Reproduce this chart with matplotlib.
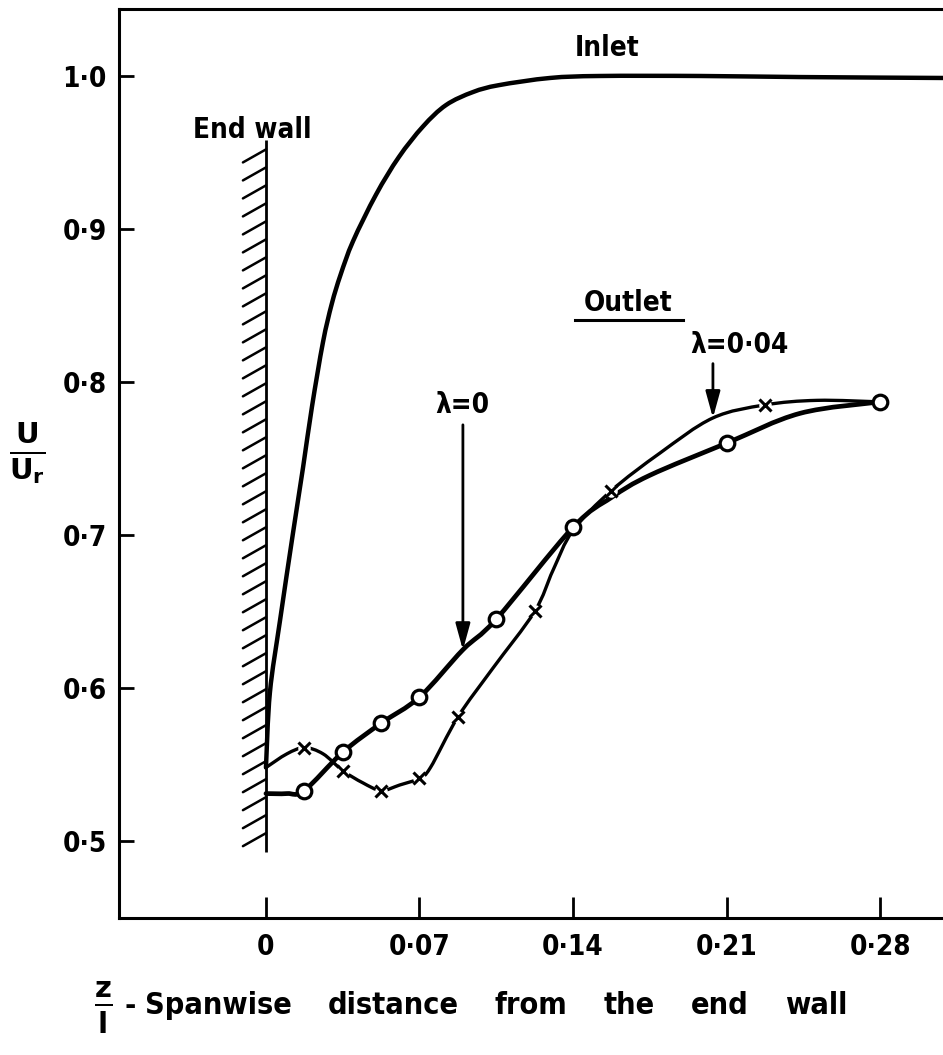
import numpy as np
import matplotlib
matplotlib.use("Agg")
import matplotlib.pyplot as plt
from matplotlib.path import Path
from matplotlib.patches import PathPatch

# ---- data -------------------------------------------------------------
# Inlet velocity profile (z/l, U/Ur)
inlet_z = [0.0, 0.0018, 0.0064, 0.0123, 0.0169, 0.0210, 0.0260, 0.0300, 0.0340,
           0.0397, 0.0502, 0.0606, 0.0716, 0.0821, 0.0944, 0.1062, 0.1295,
           0.1523, 0.198, 0.2435, 0.3087]
inlet_u = [0.548, 0.597, 0.644, 0.701, 0.744, 0.784, 0.826, 0.851, 0.870,
           0.892, 0.9225, 0.947, 0.967, 0.981, 0.9895, 0.994, 0.9987,
           1.0, 1.0, 0.9993, 0.9987]

# Outlet, lambda = 0 : measured points and faired curve
out0_z = [0.0175, 0.035, 0.0525, 0.07, 0.105, 0.14, 0.21, 0.28]
out0_u = [0.533, 0.558, 0.577, 0.594, 0.645, 0.705, 0.760, 0.787]
out0_curve_z = [0.0, 0.0096, 0.0175, 0.035, 0.0525, 0.07, 0.0898, 0.105, 0.14,
                0.1575, 0.175, 0.21, 0.2435, 0.28]
out0_curve_u = [0.531, 0.531, 0.533, 0.558, 0.577, 0.594, 0.625, 0.645, 0.705,
                0.7245, 0.739, 0.760, 0.7795, 0.787]

# Outlet, lambda = 0.04 : measured points and faired curve
out4_z = [0.0175, 0.035, 0.0525, 0.07, 0.0875, 0.1225, 0.1575, 0.2275]
out4_u = [0.561, 0.546, 0.533, 0.541, 0.581, 0.650, 0.729, 0.785]
out4_curve_z = [0.0, 0.0096, 0.0175, 0.026, 0.035, 0.0442, 0.0525, 0.061, 0.07,
                0.075, 0.0875, 0.1035, 0.1225, 0.1309, 0.140, 0.1575, 0.1797,
                0.2038, 0.2275, 0.2513, 0.28]
out4_curve_u = [0.548, 0.557, 0.561, 0.557, 0.546, 0.538, 0.533, 0.5366, 0.541,
                0.548, 0.581, 0.613, 0.650, 0.677, 0.703, 0.729, 0.7536,
                0.7765, 0.785, 0.788, 0.787]

x_ticks = [0.0, 0.07, 0.14, 0.21, 0.28]
x_tick_labels = ["0", "0\u00b707", "0\u00b714", "0\u00b721", "0\u00b728"]
y_ticks = [0.5, 0.6, 0.7, 0.8, 0.9, 1.0]
y_tick_labels = ["0\u00b75", "0\u00b76", "0\u00b77", "0\u00b78", "0\u00b79", "1\u00b70"]

xlabel_words = ["Spanwise", "distance", "from", "the", "end", "wall"]


def faired_path(xs, ys):
    """Smooth Bezier path passing through the given points (Catmull-Rom)."""
    pts = np.column_stack([xs, ys]).astype(float)
    ext = np.vstack([pts[0], pts, pts[-1]])
    verts = [pts[0]]
    codes = [Path.MOVETO]
    for i in range(1, len(ext) - 2):
        p0, p1, p2, p3 = ext[i - 1], ext[i], ext[i + 1], ext[i + 2]
        verts += [p1 + (p2 - p0) / 6.0, p2 - (p3 - p1) / 6.0, p2]
        codes += [Path.CURVE4] * 3
    return Path(verts, codes)


def draw_curve(ax, xs, ys, lw):
    ax.add_patch(PathPatch(faired_path(xs, ys), facecolor="none",
                           edgecolor="black", lw=lw, capstyle="round",
                           joinstyle="round"))


# ---- figure -----------------------------------------------------------
plt.rcParams["font.family"] = ["DejaVu Sans"]
FONT = dict(fontweight="bold", fontstretch="condensed")

W, H = 943, 1055
fig = plt.figure(figsize=(W / 100, H / 100), dpi=100)
ax = fig.add_axes([0.1262, 0.1299, 0.8738, 0.8616])
ax.set_xlim(-0.067, 0.3087)
ax.set_ylim(0.4497, 1.0438)

for side in ("left", "bottom", "top"):
    ax.spines[side].set_linewidth(2.2)
ax.spines["right"].set_visible(False)

ax.set_xticks(x_ticks)
ax.set_xticklabels(x_tick_labels, fontsize=20, **FONT)
ax.set_yticks(y_ticks)
ax.set_yticklabels(y_tick_labels, fontsize=20, **FONT)
ax.tick_params(axis="x", direction="in", length=15, width=2, pad=11)
ax.tick_params(axis="y", direction="in", length=11, width=2, pad=9)

# end wall with hatching
wall_bottom, wall_top = 0.493, 0.958
ax.plot([0, 0], [wall_bottom, wall_top], color="black", lw=2.0, solid_capstyle="butt")
hatch_dx, hatch_dy = 0.0105, 0.0085
for yh in np.arange(wall_top - 0.006, wall_bottom + 0.002, -0.01176):
    ax.plot([-hatch_dx, 0], [yh - hatch_dy, yh], color="black", lw=1.8,
            solid_capstyle="round")

# inlet profile
draw_curve(ax, inlet_z, inlet_u, 3.2)

# outlet lambda = 0.04
draw_curve(ax, out4_curve_z, out4_curve_u, 2.4)
ax.plot(out4_z, out4_u, linestyle="none", marker="o", ms=9, mfc="white",
        mec="none")
ax.plot(out4_z, out4_u, linestyle="none", marker="x", ms=9, mew=2.2,
        color="black")

# outlet lambda = 0
draw_curve(ax, out0_curve_z, out0_curve_u, 3.4)
ax.plot(out0_z, out0_u, linestyle="none", marker="o", ms=10.5, mfc="white",
        mec="black", mew=2.3)

# annotations
ax.text(0.1555, 1.0183, "Inlet", ha="center", va="center", fontsize=20, **FONT)
ax.text(-0.0064, 0.9647, "End wall", ha="center", va="center", fontsize=20, **FONT)
ax.text(0.165, 0.8516, "Outlet", ha="center", va="center", fontsize=20, **FONT)
ax.plot([0.1409, 0.190], [0.8405, 0.8405], color="black", lw=2.2)

arrow_props = dict(arrowstyle="-|>,head_length=0.8,head_width=0.22",
                   color="black", lw=2.0, shrinkA=0, shrinkB=0,
                   mutation_scale=20)
ax.text(0.0894, 0.785, "\u03bb=0", ha="center", va="center", fontsize=20, **FONT)
ax.annotate("", xy=(0.0898, 0.6248), xytext=(0.0898, 0.772), arrowprops=arrow_props)
ax.text(0.216, 0.824, "\u03bb=0\u00b704", ha="center", va="center", fontsize=20, **FONT)
ax.annotate("", xy=(0.2038, 0.7765), xytext=(0.2038, 0.812), arrowprops=arrow_props)

# axis titles
fig.text(27 / W, 1 - 453 / H, r"$\mathbf{\frac{U}{U_r}}$", ha="center",
         va="center", fontsize=30)
fig.text(103 / W, 1 - 1008 / H, r"$\mathbf{\frac{z}{l}}$", ha="center",
         va="center", fontsize=30)
fig.text(124 / W, 1 - 1006 / H, "-", ha="left", va="center", fontsize=22, **FONT)

# spread the words of the x title evenly between two pixel columns
renderer = fig.canvas.get_renderer()
word_texts = [fig.text(0, 1 - 1006 / H, w, ha="left", va="center",
                       fontsize=22, **FONT) for w in xlabel_words]
widths = [t.get_window_extent(renderer).width for t in word_texts]
x_start, x_end = 145, 847
gap = (x_end - x_start - sum(widths)) / (len(widths) - 1)
xpos = x_start
for t, wdt in zip(word_texts, widths):
    t.set_x(xpos / W)
    xpos += wdt + gap

fig.savefig("out.png", dpi=100)
